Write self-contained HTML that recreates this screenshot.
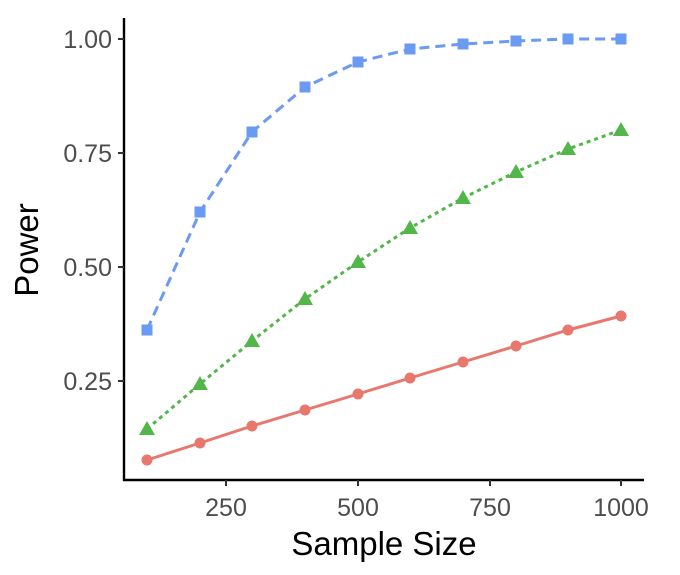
<!DOCTYPE html>
<html><head><meta charset="utf-8"><style>
html,body{margin:0;padding:0;background:#fff;}
text{font-family:"Liberation Sans",Arial,sans-serif;}
</style></head><body>
<svg width="680" height="570" viewBox="0 0 680 570" xmlns="http://www.w3.org/2000/svg">
<rect width="680" height="570" fill="#fff"/>
<line x1="124" y1="18" x2="124" y2="481" stroke="#000" stroke-width="2.4"/>
<line x1="123" y1="480" x2="644" y2="480" stroke="#000" stroke-width="2.4"/>
<g stroke="#333" stroke-width="2">
<line x1="118" y1="39" x2="124" y2="39"/>
<line x1="118" y1="153" x2="124" y2="153"/>
<line x1="118" y1="267" x2="124" y2="267"/>
<line x1="118" y1="381" x2="124" y2="381"/>
<line x1="226" y1="480" x2="226" y2="486"/>
<line x1="358" y1="480" x2="358" y2="486"/>
<line x1="490" y1="480" x2="490" y2="486"/>
<line x1="621" y1="480" x2="621" y2="486"/>
</g>
<g font-size="25" fill="#4d4d4d" text-anchor="end">
<text x="112" y="48">1.00</text>
<text x="112" y="162">0.75</text>
<text x="112" y="276">0.50</text>
<text x="112" y="390">0.25</text>
</g>
<g font-size="25" fill="#4d4d4d" text-anchor="middle">
<text x="226" y="516">250</text>
<text x="358" y="516">500</text>
<text x="490" y="516">750</text>
<text x="621" y="516">1000</text>
</g>
<text x="384" y="555" font-size="33" text-anchor="middle" fill="#000">Sample Size</text>
<text transform="translate(38,250) rotate(-90)" font-size="33" text-anchor="middle" fill="#000">Power</text>
<polyline fill="none" stroke="#E8786D" stroke-width="3" points="147,460 200,443 252,426 305,410 358,394 410,378 463,362 516,346 568,330 621,316"/>
<g fill="#E8786D">
<circle cx="147" cy="460" r="5.5"/><circle cx="200" cy="443" r="5.5"/><circle cx="252" cy="426" r="5.5"/><circle cx="305" cy="410" r="5.5"/><circle cx="358" cy="394" r="5.5"/><circle cx="410" cy="378" r="5.5"/><circle cx="463" cy="362" r="5.5"/><circle cx="516" cy="346" r="5.5"/><circle cx="568" cy="330" r="5.5"/><circle cx="621" cy="316" r="5.5"/>
</g>
<polyline fill="none" stroke="#52B64B" stroke-width="3" stroke-dasharray="4,4" points="147,429 200,384 252,341 305,299 358,262 410,228 463,198 516,172 568,149 621,130"/>
<g fill="#52B64B">
<polygon points="147,421 155,435 139,435"/><polygon points="200,376 208,390 192,390"/><polygon points="252,333 260,347 244,347"/><polygon points="305,291 313,305 297,305"/><polygon points="358,254 366,268 350,268"/><polygon points="410,220 418,234 402,234"/><polygon points="463,190 471,204 455,204"/><polygon points="516,164 524,178 508,178"/><polygon points="568,141 576,155 560,155"/><polygon points="621,122 629,136 613,136"/>
</g>
<polyline fill="none" stroke="#6B9AF3" stroke-width="3" stroke-dasharray="10,6" points="147,330 200,212 252,132 305,87 358,62 410,49 463,44 516,41 568,39 621,39"/>
<g fill="#6B9AF3">
<rect x="141.5" y="324.5" width="11" height="11"/><rect x="194.5" y="206.5" width="11" height="11"/><rect x="246.5" y="126.5" width="11" height="11"/><rect x="299.5" y="81.5" width="11" height="11"/><rect x="352.5" y="56.5" width="11" height="11"/><rect x="404.5" y="43.5" width="11" height="11"/><rect x="457.5" y="38.5" width="11" height="11"/><rect x="510.5" y="35.5" width="11" height="11"/><rect x="562.5" y="33.5" width="11" height="11"/><rect x="615.5" y="33.5" width="11" height="11"/>
</g>
</svg>
</body></html>
